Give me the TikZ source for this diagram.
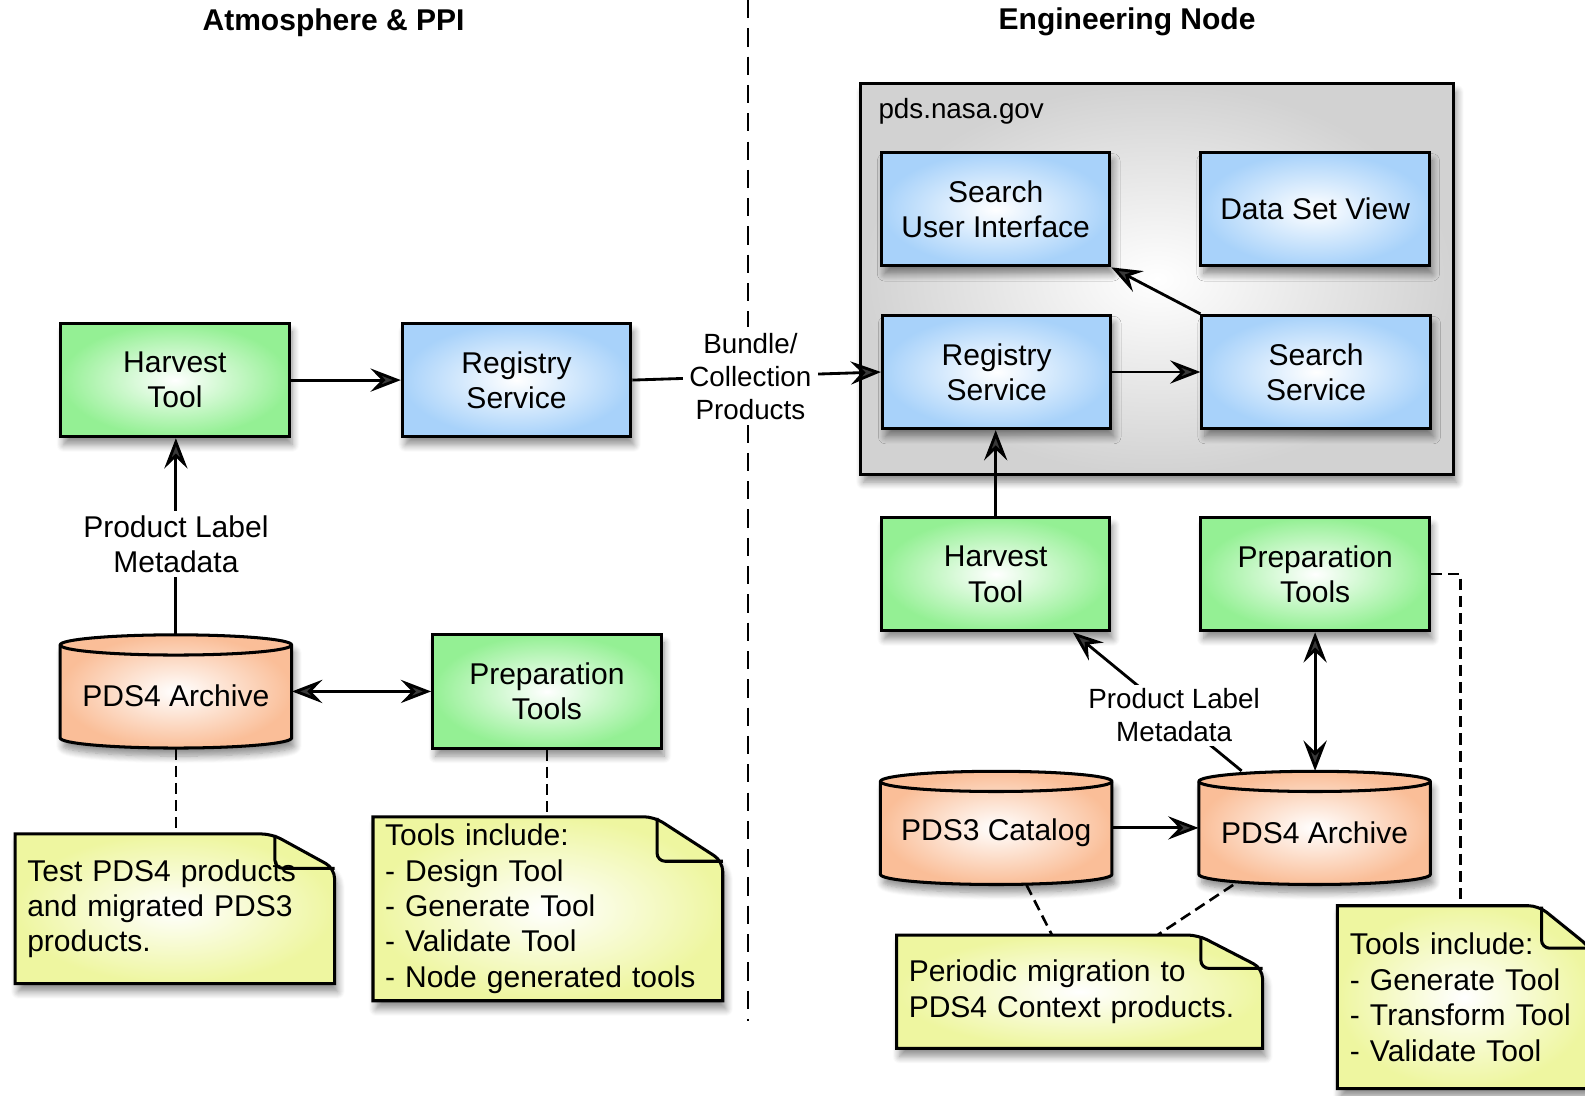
\documentclass[tikz,border=0pt]{standalone}
\usepackage{fontspec}
\setmainfont{Liberation Sans}
\usetikzlibrary{arrows.meta,shadows.blur,calc}
\definecolor{greenE}{RGB}{148,240,148}
\definecolor{blueE}{RGB}{168,210,250}
\definecolor{orangeE}{RGB}{250,190,152}
\definecolor{yellowE}{RGB}{238,246,160}
\definecolor{grayE}{RGB}{210,210,210}
\tikzset{
  x=0.5pt, y=0.5pt,
  every node/.style={font=\fontsize{14.85}{17.5}\selectfont, text=black},
  smalllbl/.style={font=\fontsize{13.75}{16.25}\selectfont, align=center},
  biglbl/.style={align=center},
  titlelbl/.style={font=\fontsize{14.85}{17.5}\selectfont\bfseries},
  shadowed/.style={blur shadow={shadow xshift=1.5pt, shadow yshift=-4pt, shadow blur radius=3.5pt, shadow blur steps=8, shadow opacity=45}},
  procbox/.style={draw=black, line width=1.5pt, minimum width=113pt, minimum height=56pt, align=center, inner sep=0pt, shadowed},
  greenbox/.style={procbox, inner color=white, outer color=greenE},
  bluebox/.style={procbox, inner color=white, outer color=blueE},
  cylfill/.style={draw=black, line width=1.5pt, inner color=white, outer color=orangeE, shadowed},
  cyltext/.style={minimum width=114.5pt, minimum height=56pt, inner sep=0pt, align=center},
  notefill/.style={draw=black, line width=1.5pt, inner color=white, outer color=yellowE, shadowed},
  notetext/.style={align=left, inner xsep=6pt, inner ysep=0pt},
  grouped/.style={draw=black, line width=1.5pt, inner color=white, outer color=grayE, shadowed},
  tip/.tip={Stealth[length=15pt,width=11.5pt,inset=5.5pt]},
  arr/.style={line width=1.4pt, -tip},
  darr/.style={line width=1.4pt, tip-tip},
  noteline/.style={line width=1.3pt, dash pattern=on 5.5pt off 3pt},
  divider/.style={line width=0.8pt, dash pattern=on 9pt off 5pt},
}
\newcommand\cylshape[2]{%
  \begin{scope}[shift={(#1,#2)}]
    \path[cylfill] (-114.5,46) -- (-114.5,-46)
      arc[start angle=180,end angle=360,x radius=57.25pt,y radius=5pt]
      -- (114.5,46)
      arc[start angle=0,end angle=180,x radius=57.25pt,y radius=5pt] -- cycle;
    \draw[line width=1.5pt] (-114.5,46)
      arc[start angle=180,end angle=360,x radius=57.25pt,y radius=5pt];
  \end{scope}}
\newcommand\cyltxt[1]{\raisebox{-2.25pt}[\height][\depth]{#1}}
% x1 y1 x2 y2 foldwidth foldheight (pixels, y downwards)
\newcommand\noteshape[6]{%
  \path[notefill] (#1,-#2) [rounded corners=5pt] -- ({#3-#5},-#2) -- (#3,{-#2-#6})
     [sharp corners] -- (#3,-#4) -- (#1,-#4) -- cycle;
  \draw[line width=1.5pt, rounded corners=4pt] ({#3-#5+3},{-#2-1}) -- ({#3-#5+3},{-#2-#6}) -- (#3,{-#2-#6});}
\begin{document}
\begin{tikzpicture}
\useasboundingbox (0,0) rectangle (1568,-1084);

% divider and titles
\coordinate (dtop) at (740,0);
\coordinate (dbot) at (740,-1010);
\draw[divider] (dtop) -- (dbot);
\node[titlelbl] (t1) at (330,-22) {Atmosphere \& PPI};
\node[titlelbl] (t2) at (1115,-22) {Engineering Node};

% ---------- left side ----------
\node[greenbox] (harvL) at (173,-376) {Harvest\\Tool};
\node[bluebox] (regL) at (511,-376) {Registry\\Service};
\cylshape{174}{-684}
\node[cyltext] (arcL) at (174,-684) {\cyltxt{PDS4 Archive}};
\node[greenbox] (prepL) at (541,-684) {Preparation\\Tools};

\noteshape{15}{825}{331}{973}{62}{34}
\node[notetext, text width=146pt, minimum height=74pt] (note1) at (173,-899)
  {Test PDS4 products\\and migrated PDS3\\products.};
\noteshape{369}{808}{715}{990}{68}{44}
\node[notetext, text width=161pt, minimum height=91pt] (note2) at (542,-899)
  {Tools include:\\- Design Tool\\- Generate Tool\\- Validate Tool\\- Node generated tools};

\draw[arr] (harvL) -- (regL);
\draw[arr] (arcL.north) -- node[biglbl, fill=white, pos=0.46, inner sep=2pt] {Product Label\\Metadata} (arcL.north |- harvL.south);
\draw[darr] (arcL.east) -- (arcL.east -| prepL.west);
\draw[noteline] (arcL.south) -- (arcL.south |- note1.north);
\draw[noteline] (prepL.south) -- (prepL.south |- note2.north);

% ---------- right side ----------
\node[grouped, minimum width=293.5pt, minimum height=193pt] (pds) at (1144.5,-276) {};
\node[smalllbl, anchor=west] (pdslbl) at (862,-110) {pds.nasa.gov};
\node[bluebox] (sui) at (985,-207) {Search\\User Interface};
\node[bluebox] (dsv) at (1301,-207) {Data Set View};
\node[bluebox] (regR) at (986,-368) {Registry\\Service};
\node[bluebox] (srch) at (1302,-368) {Search\\Service};
\node[greenbox] (harvR) at (985,-568) {Harvest\\Tool};
\node[greenbox] (prepR) at (1301,-568) {Preparation\\Tools};
\cylshape{985.5}{-819}
\node[cyltext] (pds3) at (985.5,-819) {\cyltxt{PDS3 Catalog}};
\cylshape{1300.5}{-819}
\node[cyltext] (arcR) at (1300.5,-819) {\cyltxt{PDS4 Archive}};

\noteshape{887}{925}{1249}{1037}{64}{33}
\node[notetext, text width=169pt, minimum height=56pt] (note3) at (1068,-981)
  {Periodic migration to\\PDS4 Context products.};
\noteshape{1323}{896}{1574}{1077}{52}{42}
\node[notetext, text width=113pt, minimum height=90.5pt] (note4) at (1448.5,-986.5)
  {Tools include:\\- Generate Tool\\- Transform Tool\\- Validate Tool};

\draw[arr] (regL.east) -- node[smalllbl, fill=white, pos=0.475, inner sep=3pt] {Bundle/\\Collection\\Products} (regR.west);
\draw[arr] (regR) -- (srch);
\draw[arr] (srch.north west) -- (sui.south east);
\draw[arr] (harvR.north) -- (harvR.north |- regR.south);
\draw[arr] (pds3) -- (arcR);
\draw[darr] (prepR.south) -- (prepR.south |- arcR.north);
\draw[arr] (arcR.142) -- node[smalllbl, fill=white, pos=0.4, inner sep=2pt] {Product Label\\Metadata} (harvR.-37);
\draw[noteline] (pds3.-62) -- (note3.116);
\draw[noteline] (arcR.215) -- (note3.36);
\coordinate (n4top) at (1445,-896);
\draw[noteline] (prepR.east) -| (n4top);
\end{tikzpicture}
\end{document}
